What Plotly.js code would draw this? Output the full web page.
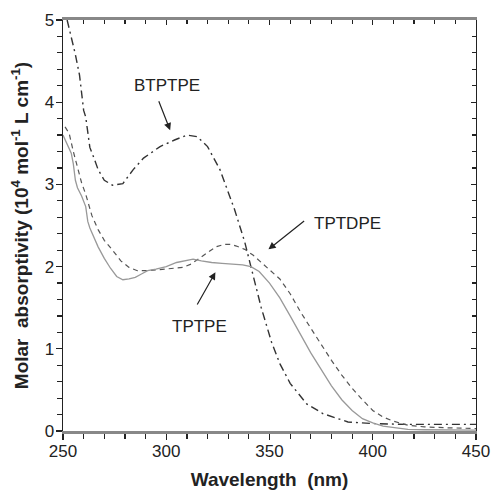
<!DOCTYPE html>
<html>
<head>
<meta charset="utf-8">
<script src="https://cdn.plot.ly/plotly-3.0.1.min.js"></script>
<style>html,body{margin:0;padding:0;background:#fff;}#chart{width:491px;height:491px;}</style>
</head>
<body>
<div id="chart"></div>
<script>
// Wavelength (nm) and molar absorptivity (10^4 mol^-1 L cm^-1)
const btptpeX = [252,254,256,258,260,261,262,263,265,267,270,274,279,284,289,297,304,310,315,320,326,333,338,341,346,351,355,360,368,376,388,400,417,450];
const btptpeY = [5.00,4.80,4.58,4.33,3.90,3.82,3.60,3.45,3.32,3.18,3.05,2.99,3.01,3.18,3.32,3.46,3.54,3.60,3.58,3.46,3.18,2.70,2.30,2.00,1.50,1.08,0.82,0.58,0.33,0.21,0.11,0.09,0.08,0.08];

const tptdpeX = [251,253,255,257,259,261,264,267,270,274,278,282,286,291,296,300,304,308,312,316,320,324,328,331,334,338,342,346,350,355,360,365,370,375,380,385,390,395,400,405,410,417,425,435,450];
const tptdpeY = [3.70,3.62,3.40,3.20,3.02,2.88,2.62,2.45,2.32,2.20,2.07,1.99,1.95,1.95,1.96,1.97,1.98,1.99,2.03,2.10,2.18,2.24,2.27,2.27,2.25,2.21,2.14,2.05,1.97,1.85,1.67,1.45,1.25,1.05,0.86,0.68,0.52,0.38,0.25,0.17,0.12,0.07,0.05,0.04,0.03];

const tptpeX = [250,252,254,255,256,257,259,261,262,263,265,267,270,273,276,279,282,285,288,291,295,300,305,310,313,317,322,327,332,337,341,345,350,355,360,365,370,375,380,385,390,395,400,405,410,417,425,435,450];
const tptpeY = [3.60,3.50,3.38,3.25,3.05,2.96,2.86,2.73,2.55,2.47,2.36,2.24,2.10,1.98,1.88,1.84,1.85,1.87,1.91,1.95,1.97,2.00,2.05,2.08,2.09,2.07,2.05,2.04,2.03,2.02,2.00,1.94,1.80,1.62,1.40,1.17,0.95,0.75,0.55,0.38,0.25,0.15,0.10,0.06,0.04,0.02,0.015,0.01,0.01];

const seriesNames = ['BTPTPE','TPTDPE','TPTPE'];
const xTicks = [250,300,350,400,450];
const yTicks = [0,1,2,3,4,5];

const FONT = 'Arial, "Liberation Sans", Helvetica, sans-serif';

const traces = [
  {x: btptpeX, y: btptpeY, name: seriesNames[0], mode: 'lines', line: {color: '#333', width: 1.4, dash: '8px,4px,2px,4px'}},
  {x: tptdpeX, y: tptdpeY, name: seriesNames[1], mode: 'lines', line: {color: '#555', width: 1.2, dash: '5px,4px'}},
  {x: tptpeX, y: tptpeY, name: seriesNames[2], mode: 'lines', line: {color: '#999', width: 1.3}},
  // invisible trace so the mirror axes are drawn
  {x: [250], y: [0], xaxis: 'x2', yaxis: 'y2', mode: 'markers', marker: {opacity: 0}, hoverinfo: 'skip', showlegend: false}
];

const tickFont = {family: FONT, size: 17, color: '#222'};
const annFont = {family: FONT, size: 17, color: '#222'};

const layout = {
  width: 491, height: 491,
  margin: {l: 63, r: 15, t: 20, b: 60},
  paper_bgcolor: '#fff', plot_bgcolor: '#fff',
  showlegend: false,
  xaxis: {
    range: [250, 450], tickvals: xTicks, ticks: 'outside', ticklen: 6, tickwidth: 1.2, tickcolor: '#222',
    minor: {dtick: 10, ticks: 'outside', ticklen: 5, tickwidth: 1.2, tickcolor: '#222'},
    showline: true, linecolor: '#888', linewidth: 3, showgrid: false, zeroline: false,
    tickfont: tickFont, ticklabelstandoff: -3,
    title: {text: '<b>Wavelength  (nm)</b>', font: {family: FONT, size: 19, color: '#222'}, standoff: 13}
  },
  xaxis2: {
    overlaying: 'x', side: 'top', matches: 'x', range: [250, 450], tickvals: xTicks,
    ticks: 'inside', ticklen: 5, tickwidth: 1.2, tickcolor: '#222',
    minor: {dtick: 10, ticks: 'inside', ticklen: 4, tickwidth: 1.2, tickcolor: '#222'},
    showticklabels: false, showline: true, linecolor: '#888', linewidth: 3, showgrid: false, zeroline: false
  },
  yaxis: {
    range: [0, 5], tickvals: yTicks, ticks: 'outside', ticklen: 6, tickwidth: 1.2, tickcolor: '#222',
    minor: {dtick: 0.2, ticks: 'outside', ticklen: 5, tickwidth: 1.2, tickcolor: '#222'},
    showline: true, linecolor: '#222', linewidth: 1.5, showgrid: false, zeroline: false,
    tickfont: tickFont, ticklabelstandoff: -2,
    title: {text: '<b>Molar  absorptivity (10<sup>4</sup> mol<sup>-1</sup> L cm<sup>-1</sup>)</b>', font: {family: FONT, size: 19, color: '#222'}, standoff: 11}
  },
  yaxis2: {
    overlaying: 'y', side: 'right', matches: 'y', range: [0, 5], tickvals: yTicks,
    ticks: 'inside', ticklen: 5, tickwidth: 1.2, tickcolor: '#222',
    minor: {dtick: 0.2, ticks: 'inside', ticklen: 4, tickwidth: 1.2, tickcolor: '#222'},
    showticklabels: false, showline: true, linecolor: '#222', linewidth: 1.3, showgrid: false, zeroline: false
  },
  annotations: [
    {x: 300.5, y: 4.20, text: seriesNames[0], showarrow: false, font: annFont},
    {x: 387.9, y: 2.53, text: seriesNames[1], showarrow: false, font: annFont},
    {x: 316, y: 1.27, text: seriesNames[2], showarrow: false, font: annFont},
    {x: 301.9, y: 3.66, ax: 296.1, ay: 4.03, axref: 'x', ayref: 'y', text: '', showarrow: true, arrowhead: 2, arrowsize: 1.2, arrowwidth: 1.2, arrowcolor: '#222'},
    {x: 349.5, y: 2.21, ax: 367.5, ay: 2.57, axref: 'x', ayref: 'y', text: '', showarrow: true, arrowhead: 2, arrowsize: 1.2, arrowwidth: 1.2, arrowcolor: '#222'},
    {x: 323.8, y: 1.93, ax: 314.6, ay: 1.52, axref: 'x', ayref: 'y', text: '', showarrow: true, arrowhead: 2, arrowsize: 1.2, arrowwidth: 1.2, arrowcolor: '#222'}
  ]
};

Plotly.newPlot('chart', traces, layout, {staticPlot: true, displayModeBar: false});
</script>
</body>
</html>
